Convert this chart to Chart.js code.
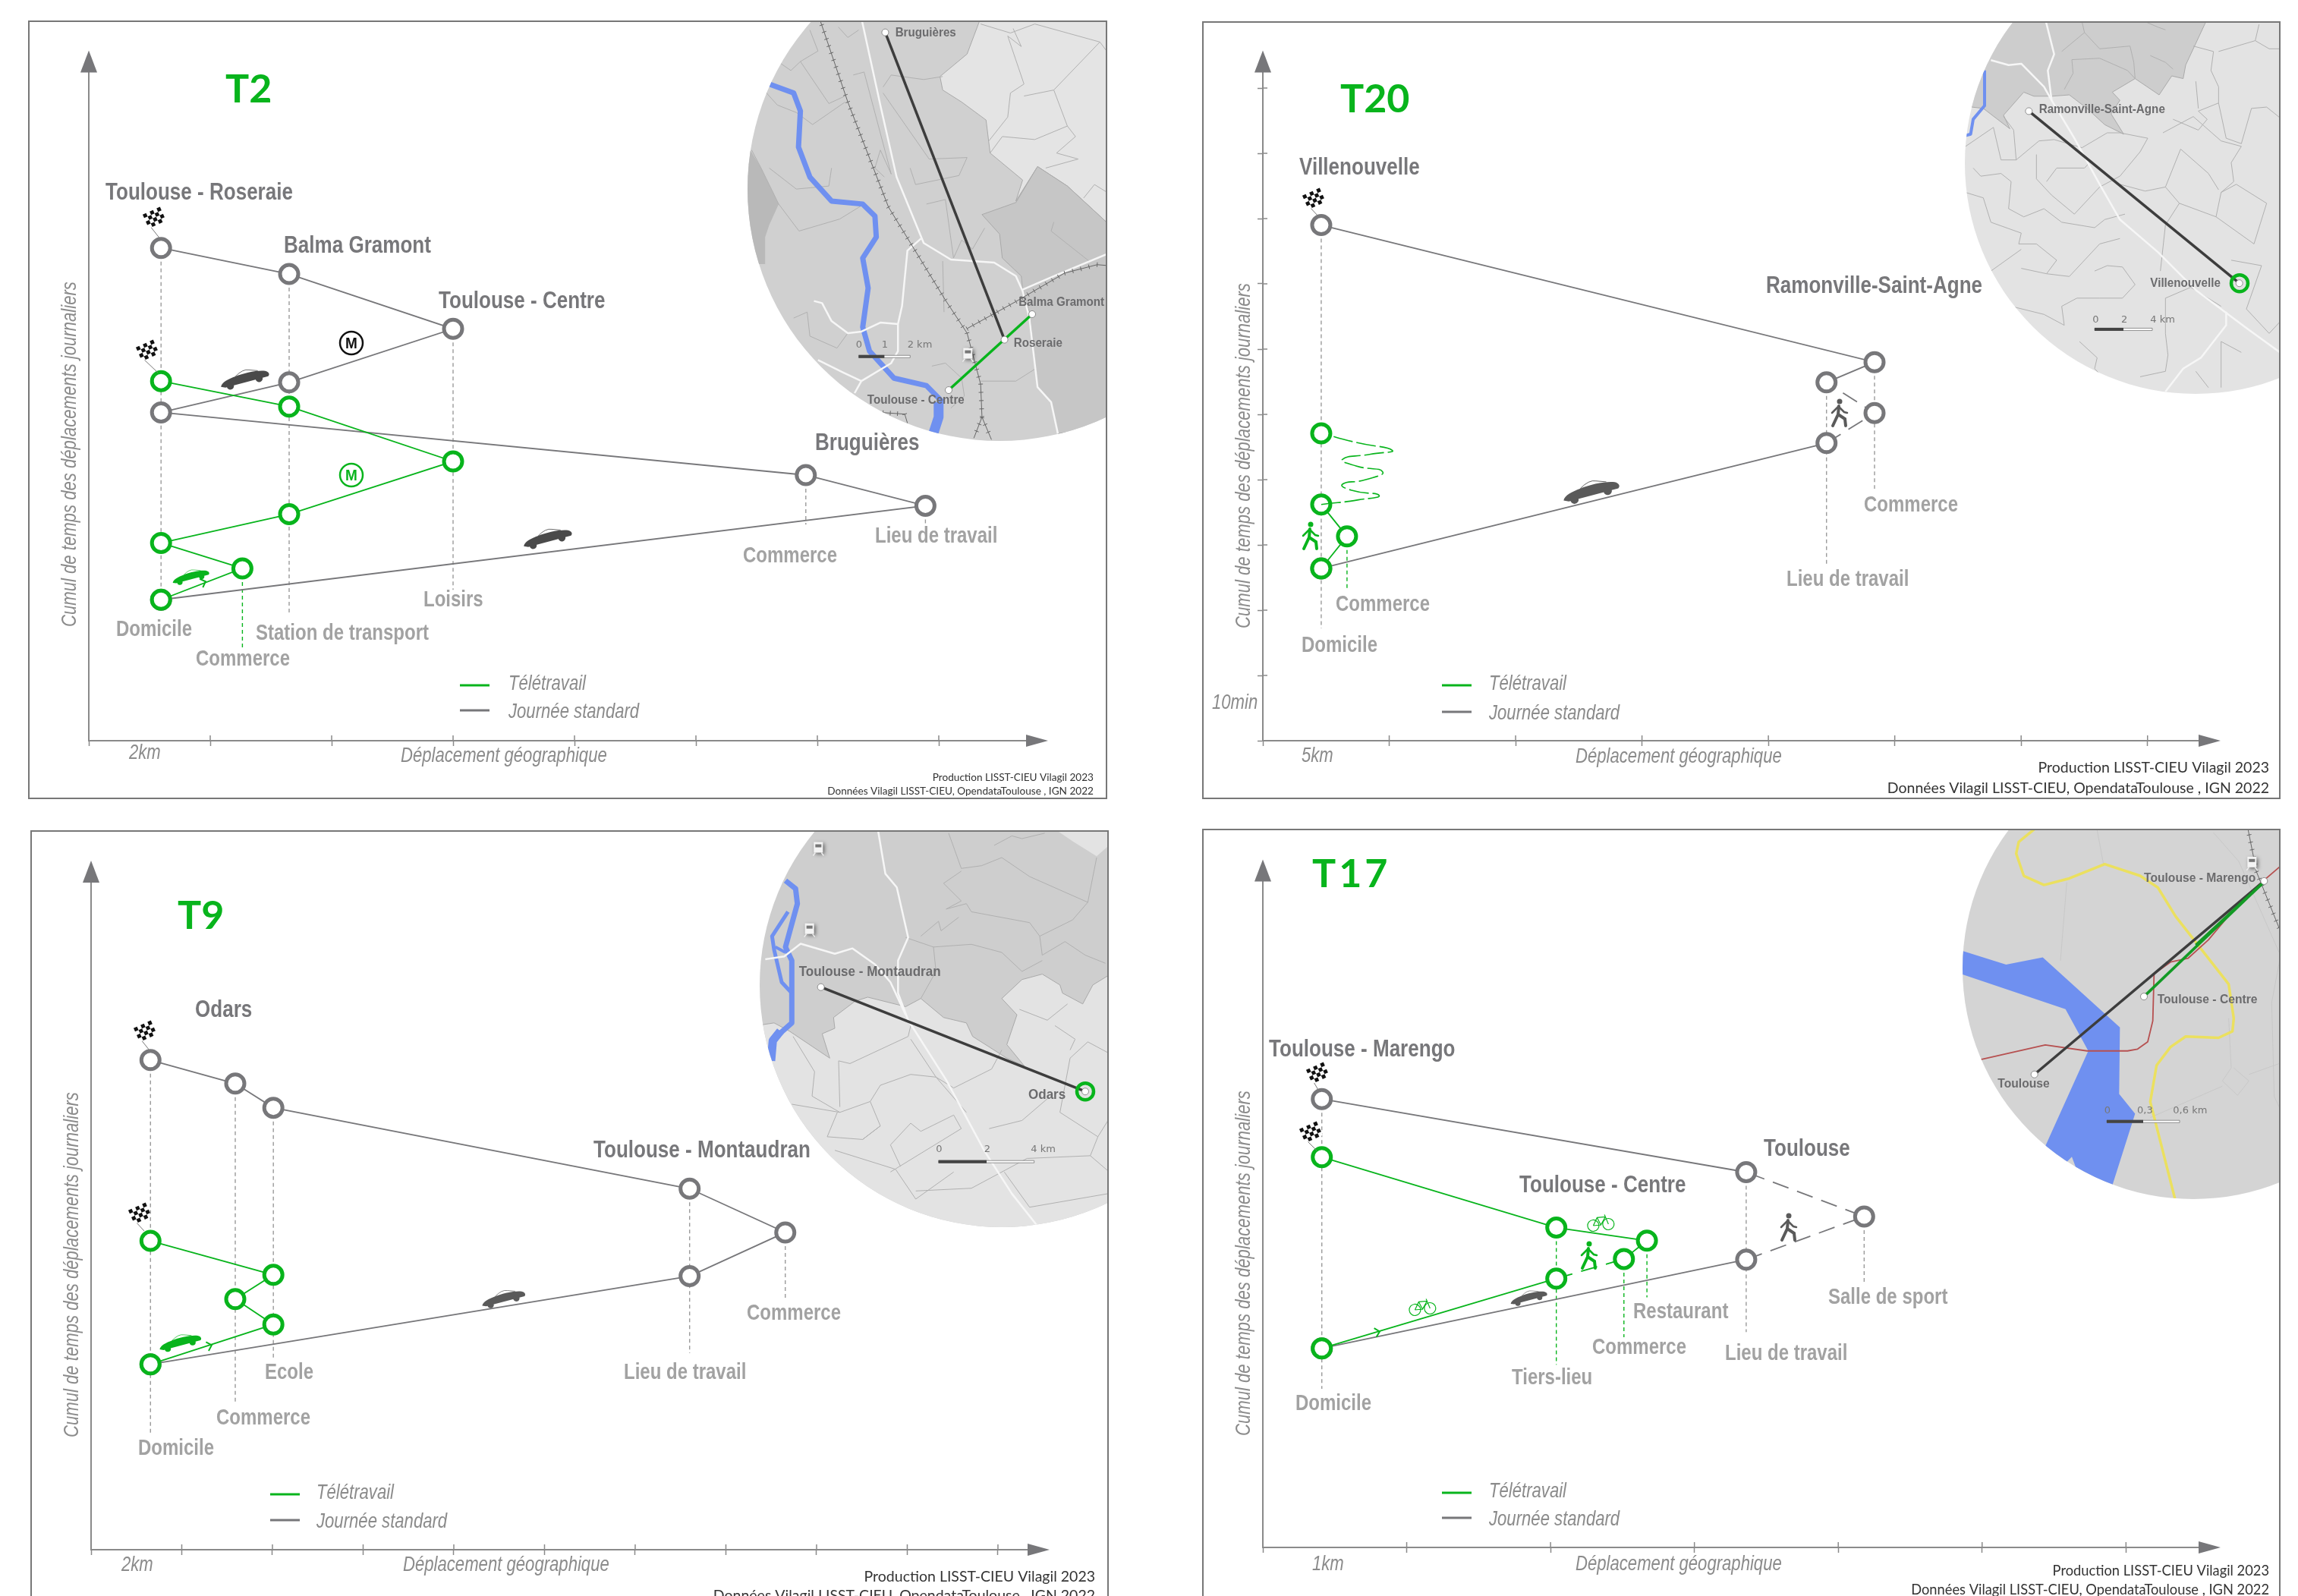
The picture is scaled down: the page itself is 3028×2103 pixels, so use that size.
<!DOCTYPE html>
<html>
<head>
<meta charset="utf-8">
<title>Cumul de temps des déplacements</title>
<style>
  html, body { margin: 0; padding: 0; background: #fff; width: 3028px; height: 2103px; overflow: hidden; }
  canvas { position: absolute; }
</style>
<script src="https://cdn.jsdelivr.net/npm/chart.js@4/dist/chart.umd.js"></script>
</head>
<body>
<script>
// ---- data : x in km, y in minutes ----
const t2GreyX = [1.19, 13.78, 11.81, 1.19, 3.3, 6.0, 3.3, 1.19];
const t2GreyY = [21.6, 36.0, 40.7, 50.3, 54.9, 63.1, 71.5, 75.5];
const t2GreenX = [1.19, 2.53, 1.19, 3.3, 6.0, 3.3, 1.19];
const t2GreenY = [21.6, 26.4, 30.3, 34.7, 42.8, 51.2, 55.1];
const t2DropGreyX = [1.19, 3.3, 6.0, 11.81, 13.78];
const t2DropGreyTop = [75.5, 71.5, 63.1, 40.7, 36.0];
const t2DropGreyBottom = [19.9, 19.2, 23.1, 33.1, 33.1];
const t2DropGreenX = [2.53];
const t2DropGreenTop = [26.4];
const t2DropGreenBottom = [14.1];
const t2Places = ['Toulouse - Roseraie', 'Balma Gramont', 'Toulouse - Centre', 'Bruguières'];
const t2Stops = ['Commerce', 'Lieu de travail', 'Loisirs', 'Domicile', 'Station de transport', 'Commerce'];

const t20GreyX = [2.31, 22.3, 24.2, 22.3, 24.2, 2.31];
const t20GreyY = [26.4, 45.6, 50.2, 54.9, 58.0, 79.0];
const t20GreenX = [2.31, 3.33, 2.31];
const t20GreenY = [26.4, 31.3, 36.2];
const t20SportX = [2.31, 3.78, 4.6, 3.48, 3.15, 4.07, 4.74, 3.69, 3.15, 4.26, 5.12, 3.69, 2.31];
const t20SportY = [36.2, 36.9, 37.6, 38.4, 39.3, 40.0, 41.2, 42.1, 43.1, 43.9, 44.5, 45.7, 47.1];
const t20DropGreyX = [2.31, 22.3, 24.2];
const t20DropGreyTop = [79.0, 54.9, 58.0];
const t20DropGreyBottom = [17.2, 26.7, 38.6];
const t20DropGreenX = [3.33];
const t20DropGreenTop = [31.3];
const t20DropGreenBottom = [23.3];
const t20Places = ['Villenouvelle', 'Ramonville-Saint-Agne'];
const t20Stops = ['Commerce', 'Lieu de travail', 'Commerce', 'Domicile'];

const t9GreyX = [1.31, 13.2, 15.31, 13.2, 4.02, 3.18, 1.31];
const t9GreyY = [28.4, 41.9, 48.6, 55.3, 67.7, 71.4, 75.0];
const t9GreenX = [1.31, 4.02, 3.18, 4.02, 1.31];
const t9GreenY = [28.4, 34.5, 38.4, 42.1, 47.3];
const t9DropGreyX = [1.31, 3.18, 4.02, 13.2, 15.31];
const t9DropGreyTop = [75.0, 71.4, 67.7, 55.3, 48.6];
const t9DropGreyBottom = [17.8, 22.7, 29.0, 30.1, 38.3];
const t9Places = ['Odars', 'Toulouse - Montaudran'];
const t9Stops = ['Commerce', 'Lieu de travail', 'Ecole', 'Commerce', 'Domicile'];

const t17GreyX = [0.41, 3.36, 4.18, 3.36, 0.41];
const t17GreyY = [30.5, 44.1, 50.7, 57.5, 68.7];
const t17GreenX = [0.41, 2.04, 2.51, 2.67, 2.04, 0.41];
const t17GreenY = [30.5, 41.2, 44.2, 47.0, 49.0, 59.8];
const t17DropGreyX = [0.41, 3.36, 4.18];
const t17DropGreyTop = [68.7, 57.5, 50.7];
const t17DropGreyBottom = [24.3, 33.0, 40.6];
const t17DropGreenX = [2.04, 2.51, 2.67];
const t17DropGreenTop = [49.0, 44.2, 47.0];
const t17DropGreenBottom = [28.0, 32.2, 38.3];
const t17Places = ['Toulouse - Marengo', 'Toulouse - Centre', 'Toulouse'];
const t17Stops = ['Salle de sport', 'Restaurant', 'Commerce', 'Lieu de travail', 'Tiers-lieu', 'Domicile'];

const legendNames = ['Télétravail', 'Journée standard'];
const xTitle = 'Déplacement géographique';
const yTitle = 'Cumul de temps des déplacements journaliers';
const footerProd = 'Production LISST-CIEU Vilagil 2023';
const footerData = 'Données Vilagil LISST-CIEU, OpendataToulouse , IGN 2022';

// ---- styles ----
const GREEN = '#08b41c';
const GREY = '#77777a';
const STOP = '#a2a2a2';
const AXIS = '#8a8a8a';
const ITALIC = '#8b8b8b';
const DARK = '#3d3d3d';
const BLUE = '#6f90f0';
const SANS = '"Liberation Sans"';

function text(ctx, str, x, y, font, color, opt) {
  opt = opt || {};
  ctx.save();
  ctx.translate(x, y);
  if (opt.rot) ctx.rotate(opt.rot);
  ctx.scale(opt.stretch || 1, 1);
  ctx.font = font;
  ctx.fillStyle = color;
  ctx.textAlign = opt.align || 'left';
  ctx.textBaseline = 'middle';
  if (opt.spacing) ctx.letterSpacing = opt.spacing;
  ctx.fillText(str, 0, 0);
  ctx.restore();
}

function car(ctx, x, y, color, s) {
  ctx.save();
  ctx.translate(x, y);
  ctx.rotate(-0.16);
  ctx.scale(s, s);
  ctx.fillStyle = color;
  ctx.beginPath();
  ctx.moveTo(-34, 7);
  ctx.bezierCurveTo(-32, 1, -22, -2, -12, -4);
  ctx.bezierCurveTo(0, -7, 20, -8, 30, -5);
  ctx.bezierCurveTo(35, -3, 36, 1, 33, 3);
  ctx.lineTo(-28, 9);
  ctx.closePath();
  ctx.fill();
  ctx.beginPath();
  ctx.arc(-21, 8, 5, 0, Math.PI * 2);
  ctx.arc(20, 4, 5, 0, Math.PI * 2);
  ctx.fill();
  ctx.strokeStyle = color;
  ctx.lineWidth = 0.8;
  ctx.beginPath();
  ctx.moveTo(-12, -4);
  ctx.quadraticCurveTo(0, -13, 8, -10);
  ctx.lineTo(20, -7);
  ctx.stroke();
  ctx.restore();
}

function walker(ctx, x, y, color) {
  ctx.save();
  ctx.translate(x, y);
  ctx.strokeStyle = color;
  ctx.fillStyle = color;
  ctx.lineCap = 'round';
  ctx.lineWidth = 4;
  ctx.beginPath();
  ctx.arc(1, -15, 3.5, 0, Math.PI * 2);
  ctx.fill();
  ctx.beginPath();
  ctx.moveTo(0, -9); ctx.lineTo(-1, 2); ctx.lineTo(-8, 17);
  ctx.moveTo(-1, 2); ctx.lineTo(8, 8); ctx.lineTo(9, 17);
  ctx.stroke();
  ctx.lineWidth = 2.5;
  ctx.beginPath();
  ctx.moveTo(-1, -8); ctx.lineTo(-9, 0);
  ctx.moveTo(0, -8); ctx.lineTo(7, -1); ctx.lineTo(11, 0);
  ctx.stroke();
  ctx.restore();
}

function bike(ctx, x, y, color) {
  ctx.save();
  ctx.translate(x, y);
  ctx.rotate(-0.1);
  ctx.strokeStyle = color;
  ctx.lineWidth = 1.2;
  ctx.beginPath();
  ctx.arc(-10, 4, 7.5, 0, Math.PI * 2);
  ctx.moveTo(17.5, 4);
  ctx.arc(10, 4, 7.5, 0, Math.PI * 2);
  ctx.moveTo(-10, 4); ctx.lineTo(-4, -6); ctx.lineTo(7, -6); ctx.lineTo(10, 4);
  ctx.moveTo(-4, -6); ctx.lineTo(0, 4); ctx.lineTo(7, -6);
  ctx.moveTo(-10, 4); ctx.lineTo(0, 4);
  ctx.moveTo(6, -9); ctx.lineTo(7, -6);
  ctx.stroke();
  ctx.restore();
}

function flag(ctx, x, y, endX, endY) {
  ctx.save();
  ctx.strokeStyle = '#777';
  ctx.lineWidth = 1;
  ctx.beginPath();
  ctx.moveTo(x - 6, y + 10);
  ctx.lineTo(endX, endY);
  ctx.stroke();
  ctx.translate(x, y);
  ctx.rotate(-0.42);
  const c = 5;
  ctx.fillStyle = '#fff';
  ctx.fillRect(-12, -10, c * 5, c * 4);
  ctx.fillStyle = '#111';
  for (let i = 0; i < 5; i++) {
    for (let j = 0; j < 4; j++) {
      if ((i + j) % 2 === 0) ctx.fillRect(-12 + i * c, -10 + j * c, c, c);
    }
  }
  ctx.restore();
}

function metro(ctx, x, y, color) {
  ctx.strokeStyle = color;
  ctx.lineWidth = 2.5;
  ctx.beginPath();
  ctx.arc(x, y, 15, 0, Math.PI * 2);
  ctx.stroke();
  text(ctx, 'M', x, y + 1, 'bold 20px ' + SANS, color, { align: 'center', stretch: 0.95 });
}

function chevron(ctx, x, y, color, rot) {
  ctx.save();
  ctx.translate(x, y);
  ctx.rotate(rot);
  ctx.strokeStyle = color;
  ctx.lineWidth = 2;
  ctx.beginPath();
  ctx.moveTo(-4, -6); ctx.lineTo(2, 0); ctx.lineTo(-4, 6);
  ctx.stroke();
  ctx.restore();
}

function train(ctx, x, y) {
  ctx.save();
  ctx.shadowColor = 'rgba(0,0,0,0.5)';
  ctx.shadowBlur = 5;
  ctx.shadowOffsetX = 2;
  ctx.shadowOffsetY = 2;
  ctx.fillStyle = '#f4f4f4';
  ctx.fillRect(x - 6, y - 8, 12, 14);
  ctx.shadowColor = 'transparent';
  ctx.fillStyle = '#777';
  ctx.fillRect(x - 4, y - 5, 8, 4);
  ctx.strokeStyle = '#eee';
  ctx.lineWidth = 1.5;
  ctx.beginPath();
  ctx.moveTo(x - 4, y + 6); ctx.lineTo(x - 7, y + 10);
  ctx.moveTo(x + 4, y + 6); ctx.lineTo(x + 7, y + 10);
  ctx.stroke();
  ctx.restore();
}

// ---- background maps, traced in zoom units of the reference ----
function drawMap(ctx, m, panel) {
  const px = p => [p[0] / m.sx + m.ox, p[1] / m.sy + m.oy];
  const path = pts => {
    ctx.beginPath();
    pts.forEach((p, i) => {
      const q = px(p);
      if (i === 0) ctx.moveTo(q[0], q[1]); else ctx.lineTo(q[0], q[1]);
    });
  };
  ctx.save();
  ctx.beginPath();
  ctx.rect(panel.x, panel.y, panel.w, panel.h);
  ctx.clip();
  ctx.beginPath();
  ctx.arc(m.cx, m.cy, m.r, 0, Math.PI * 2);
  ctx.clip();
  ctx.fillStyle = m.base;
  ctx.fillRect(m.cx - m.r, m.cy - m.r, m.r * 2, m.r * 2);
  (m.areas || []).forEach(a => {
    path(a.pts);
    ctx.closePath();
    ctx.fillStyle = a.color;
    ctx.fill();
    ctx.strokeStyle = '#a9a9a9';
    ctx.lineWidth = 1;
    if (a.line) ctx.stroke();
  });
  ctx.lineJoin = 'round';
  ctx.strokeStyle = m.borderColor || '#b0b0b0';
  ctx.lineWidth = 1;
  (m.borders || []).forEach(b => { path(b); ctx.stroke(); });
  (m.rivers || []).forEach(r => {
    path(r.pts);
    ctx.strokeStyle = BLUE;
    ctx.lineWidth = r.w;
    ctx.stroke();
  });
  (m.roads || []).forEach(r => {
    path(r);
    ctx.strokeStyle = '#f6f6f6';
    ctx.lineWidth = 2.5;
    ctx.stroke();
  });
  (m.colored || []).forEach(r => {
    path(r.pts);
    ctx.strokeStyle = r.color;
    ctx.lineWidth = r.w;
    ctx.stroke();
  });
  (m.rails || []).forEach(r => {
    path(r);
    ctx.strokeStyle = '#666';
    ctx.lineWidth = 1;
    ctx.stroke();
    for (let i = 0; i < r.length - 1; i++) {
      const a = px(r[i]), b = px(r[i + 1]);
      const len = Math.hypot(b[0] - a[0], b[1] - a[1]);
      const n = Math.floor(len / 9);
      for (let k = 0; k < n; k++) {
        const t = k / n;
        const qx = a[0] + (b[0] - a[0]) * t, qy = a[1] + (b[1] - a[1]) * t;
        const ux = (b[1] - a[1]) / len * 3, uy = -(b[0] - a[0]) / len * 3;
        ctx.beginPath();
        ctx.moveTo(qx - ux, qy - uy);
        ctx.lineTo(qx + ux, qy + uy);
        ctx.stroke();
      }
    }
  });
  (m.trains || []).forEach(t => { const q = px(t); train(ctx, q[0], q[1]); });
  (m.routes || []).forEach(r => {
    path(r.pts);
    ctx.strokeStyle = r.color;
    ctx.lineWidth = 3.5;
    ctx.stroke();
  });
  (m.rings || []).forEach(t => {
    const q = px(t);
    ctx.beginPath();
    ctx.arc(q[0], q[1], 11, 0, Math.PI * 2);
    ctx.strokeStyle = GREEN;
    ctx.lineWidth = 4.5;
    ctx.stroke();
  });
  (m.nodes || []).forEach(n => {
    const q = px(n);
    ctx.beginPath();
    ctx.arc(q[0], q[1], 4.5, 0, Math.PI * 2);
    ctx.fillStyle = '#fff';
    ctx.fill();
    ctx.strokeStyle = '#777';
    ctx.lineWidth = 0.8;
    ctx.stroke();
  });
  (m.names || []).forEach(n => {
    const q = px(n);
    text(ctx, n[2], q[0], q[1], 'bold ' + (m.nameSize || 16.5) + 'px ' + SANS, '#6b6b6d', { stretch: 0.92 });
  });
  // scale bar
  const s = m.scale;
  const a = px([s.x0, s.y]), b = px([s.x1, s.y]), c = px([s.x2, s.y]);
  ctx.fillStyle = '#fff';
  ctx.fillRect(a[0], a[1] - 1.5, c[0] - a[0], 3);
  ctx.strokeStyle = '#777';
  ctx.lineWidth = 0.8;
  ctx.strokeRect(a[0], a[1] - 1.5, c[0] - a[0], 3);
  ctx.fillStyle = '#444';
  ctx.fillRect(a[0], a[1] - 2, b[0] - a[0], 4);
  s.labels.forEach(l => {
    const q = px([l[0], s.ty]);
    text(ctx, l[1], q[0], q[1], '13px "DejaVu Sans"', '#777');
  });
  ctx.restore();
}

const mapT2 = {
  cx: 1317, cy: 249, r: 332, sx: 2.8, sy: 2.529, ox: 960, oy: 0, base: '#d0d0d0',
  areas: [
    { color: '#e4e4e4', line: true, pts: [[930,60],[905,120],[880,180],[780,255],[790,300],[860,340],[950,400],[965,510],[1085,600],[1060,670],[1140,555],[1250,620],[1400,745],[1400,60]] },
    { color: '#b9b9b9', pts: [[80,500],[120,560],[185,680],[150,750],[135,790],[135,880],[50,880],[50,500]] },
    { color: '#c6c6c6', line: true, pts: [[935,715],[1060,675],[1140,555],[1250,620],[1400,745],[1400,1420],[1215,1445],[1190,1340],[1140,1290],[1110,1040],[1085,965],[1080,920],[1010,860],[1000,780]] }
  ],
  borders: [
    [[190,210],[230,235],[265,205],[330,170],[300,100]],
    [[265,205],[370,345],[430,320]],
    [[130,300],[180,350],[250,375],[310,415],[430,340]],
    [[460,250],[500,240],[600,580],[560,500],[540,560],[575,590]],
    [[570,290],[600,250],[720,265],[790,255]],
    [[570,310],[740,530],[880,525],[850,585],[690,615],[670,560]],
    [[405,90],[440,125],[480,100]],
    [[85,500],[120,560],[185,680],[260,770],[410,730],[500,680]],
    [[380,560],[370,620],[250,630],[150,560]],
    [[730,680],[800,665],[830,860],[860,800],[900,830],[945,760]],
    [[240,1060],[290,1040],[300,1120],[400,1160],[440,1110]],
    [[790,870],[795,1040]],
    [[750,1220],[800,1210],[860,1260],[870,1320],[820,1360]],
    [[930,1270],[1060,1270],[1130,1230]],
    [[1200,740],[1190,770],[1330,870]],
    [[1030,120],[1080,155],[1050,95]],
    [[1030,120],[1090,280],[1040,310],[1030,390],[960,470]],
    [[1090,320],[1200,300],[1250,420],[1130,465],[1010,455],[965,510]],
    [[1200,300],[1370,140],[1395,170]],
    [[1250,420],[1280,455],[1210,510],[1290,530],[1170,560]],
    [[1310,660],[1350,615],[1395,640]],
    [[930,80],[1040,110],[1130,80],[1370,140]]
  ],
  rivers: [
    { w: 7, pts: [[150,280],[240,310],[265,370],[258,490],[300,590],[380,670],[495,680],[540,720],[545,790],[495,860],[515,960],[495,1090],[520,1170],[610,1260],[730,1285],[790,1340]] },
    { w: 13, pts: [[775,1340],[775,1390],[750,1460]] }
  ],
  roads: [
    [[490,60],[560,350],[620,590],[720,810],[820,865],[980,875],[1060,920],[1085,970],[1110,1060],[1140,1290],[1190,1340],[1215,1445]],
    [[1085,965],[1200,920],[1400,845]],
    [[710,795],[660,835],[640,1020],[625,1080],[625,1170],[600,1210],[490,1270],[465,1310]],
    [[315,1003],[345,1010],[380,1070],[440,1110],[490,1105],[560,1075],[625,1080]],
    [[330,1200],[420,1240],[490,1270]]
  ],
  rails: [
    [[335,60],[440,340],[590,690],[800,1000],[880,1110],[930,1280],[935,1390],[905,1460]],
    [[935,1390],[970,1465]],
    [[880,1095],[1060,1005],[1240,910],[1360,882],[1400,885]],
    [[570,1375],[650,1380],[660,1410]]
  ],
  trains: [[883,1180]],
  routes: [
    { color: DARK, pts: [[578,108],[1018,1132]] },
    { color: GREEN, pts: [[812,1300],[1120,1047]] }
  ],
  nodes: [[578,108],[1018,1132],[812,1300],[1120,1047]],
  names: [[615,110,'Bruguières'],[1070,1008,'Balma Gramont'],[1052,1145,'Roseraie'],[512,1335,'Toulouse - Centre']],
  scale: { x0: 480, x1: 575, x2: 670, y: 1188, ty: 1150, labels: [[470,'0'],[565,'1'],[660,'2 km']] }
};

const mapT20 = {
  cx: 2893, cy: 215, r: 304, sx: 3, sy: 2.8, ox: 2560, oy: 0, base: '#e3e3e3',
  areas: [
    { color: '#cdcdcd', line: true, pts: [[60,70],[1045,70],[960,240],[950,290],[905,280],[855,350],[760,290],[670,340],[700,370],[665,420],[715,495],[640,460],[570,400],[500,350],[430,355],[360,355],[320,340],[240,425],[265,475],[160,400],[115,395],[60,420]] }
  ],
  borders: [
    [[560,120],[620,180],[740,170],[755,230],[760,290]],
    [[470,190],[560,120],[550,80]],
    [[510,220],[620,215],[730,260],[760,290]],
    [[510,220],[515,270],[480,330]],
    [[800,80],[850,100],[880,110]],
    [[820,205],[880,230],[910,255]],
    [[990,170],[1070,190],[1060,260],[1090,320],[1090,380],[1010,410],[1045,440],[1010,480],[910,440]],
    [[1000,300],[1010,400]],
    [[1235,150],[1290,180],[1340,180]],
    [[1235,150],[1250,90]],
    [[1090,190],[1235,150]],
    [[1090,380],[1120,510],[1180,530],[1220,400],[1280,395],[1340,440]],
    [[240,430],[280,480],[290,590],[380,520],[440,515],[550,545],[650,490],[700,490],[810,510]],
    [[870,490],[990,430],[1100,520],[1180,540],[1140,600],[1150,670],[1100,710]],
    [[90,540],[200,470],[230,590],[290,590]],
    [[120,620],[150,650],[230,640],[270,670]],
    [[370,570],[370,660],[430,720],[520,790],[620,690],[700,650],[780,560],[810,510]],
    [[410,670],[450,620],[560,620],[580,600]],
    [[880,690],[940,550],[1050,640],[1090,700]],
    [[880,690],[800,705],[700,680]],
    [[880,690],[935,750],[880,830]],
    [[935,750],[1080,800],[1100,710]],
    [[1100,710],[1160,680],[1280,750],[1230,900],[1080,800]],
    [[270,670],[260,770],[320,800],[400,770],[470,820],[600,840],[640,810],[720,790]],
    [[90,710],[160,730],[190,820],[310,860]],
    [[310,860],[300,900],[370,900],[450,960],[410,1010],[310,990]],
    [[410,1010],[500,1020],[620,900],[700,880]],
    [[600,1000],[650,980],[710,985],[760,1050],[710,1100],[620,1100],[530,1100],[470,1130],[480,1200],[400,1160],[270,1130]],
    [[860,1000],[880,830]],
    [[880,1100],[980,1060],[1100,1130]],
    [[880,1100],[880,1230],[890,1310]],
    [[1140,960],[1260,980],[1200,1140],[1290,1230],[1340,1180]],
    [[540,1260],[610,1320],[600,1360],[625,1385]],
    [[780,1390],[880,1370],[890,1310]],
    [[1100,1260],[1100,1430]],
    [[1100,1260],[1180,1300]],
    [[1000,1370],[1050,1430]],
    [[190,1000],[310,920]]
  ],
  rivers: [{ w: 4, pts: [[165,260],[165,390],[120,440],[110,495],[90,500]] }],
  roads: [
    [[405,70],[440,200],[415,260],[430,370],[520,510],[620,680],[700,810],[850,930],[1000,1070],[1200,1210],[1340,1305]],
    [[190,222],[260,240],[310,235],[400,320],[430,370]],
    [[1120,1150],[1120,1200],[1020,1320],[950,1360],[880,1445]]
  ],
  routes: [{ color: DARK, pts: [[340,410],[1172,1045]] }],
  rings: [[1173,1045]],
  nodes: [[340,410],[1172,1045]],
  names: [[380,405,'Ramonville-Saint-Agne'],[820,1045,'Villenouvelle']],
  scale: { x0: 600, x1: 714, x2: 828, y: 1215, ty: 1180, labels: [[592,'0'],[705,'2'],[820,'4 km']] }
};

const mapT9 = {
  cx: 1320, cy: 1298, r: 319, sx: 3, sy: 2.8, ox: 980, oy: 1080, base: '#cecece', nameSize: 18.5,
  areas: [
    { color: '#e3e3e3', line: true, pts: [[50,760],[120,750],[180,780],[340,880],[310,790],[360,770],[355,730],[440,670],[490,655],[640,690],[700,660],[790,730],[880,750],[905,800],[1040,880],[1110,910],[1040,830],[1080,720],[1020,660],[1100,590],[1180,570],[1250,610],[1260,640],[1340,680],[1380,610],[1450,570],[1450,1520],[50,1520]] },
    { color: '#e3e3e3', pts: [[1230,35],[1450,35],[1450,90],[1395,135],[1300,80]] }
  ],
  borders: [
    [[810,50],[860,180],[940,170],[1020,140],[1130,210],[1360,305],[1395,140]],
    [[990,95],[1060,60],[1100,70],[1190,50]],
    [[790,235],[860,190]],
    [[790,235],[860,300],[800,330],[880,310],[900,340],[1130,380],[1170,430],[1300,370],[1360,305]],
    [[1170,430],[1180,500],[1270,450],[1350,500],[1430,530]],
    [[700,430],[770,375],[780,410],[850,360]],
    [[750,470],[900,460],[1020,490],[1100,560],[1180,520]],
    [[750,470],[760,560],[700,660]],
    [[640,435],[750,470]],
    [[195,800],[280,930],[270,1020],[380,1080],[500,1040],[540,1130],[470,1180]],
    [[375,890],[380,1060]],
    [[375,890],[420,900],[650,800],[660,760]],
    [[500,1040],[540,980],[660,940],[760,950],[880,1080]],
    [[660,810],[760,950],[830,990],[980,920],[1020,850]],
    [[330,1170],[370,1080]],
    [[330,1170],[470,1180],[540,1130]],
    [[580,1200],[660,1120],[700,1150],[830,1090],[860,1140],[580,1300]],
    [[580,1200],[620,1280]],
    [[970,1140],[1100,1110],[1200,1030]],
    [[1250,1080],[1400,1170],[1440,1110]],
    [[1020,1300],[1120,1250],[1370,1240],[1445,1300]],
    [[1370,1240],[1400,1170]],
    [[1250,1080],[1290,880],[1360,820],[1440,860]],
    [[1230,760],[1310,810],[1290,850]],
    [[1090,700],[1200,740],[1280,680]],
    [[360,1220],[600,1290],[680,1400],[830,1300]],
    [[680,1370],[900,1360],[1020,1300]],
    [[1030,1300],[1130,1430],[1440,1380]],
    [[190,1050],[380,1080]]
  ],
  rivers: [
    { w: 7, pts: [[165,225],[205,255],[212,310],[165,470],[190,520],[190,750],[130,800]] },
    { w: 5, pts: [[175,340],[112,430],[120,480],[150,600],[190,640]] },
    { w: 4, pts: [[125,470],[165,490]] },
    { w: 11, pts: [[145,780],[115,815],[108,890]] }
  ],
  roads: [
    [[530,35],[560,200],[605,250],[650,435],[610,520],[610,640],[650,740],[800,960],[950,1220],[1060,1380],[1170,1510]],
    [[85,515],[160,505],[225,458],[360,495],[430,475],[520,535],[580,600],[640,720]]
  ],
  trains: [[295,105],[260,405]],
  routes: [{ color: DARK, pts: [[305,618],[1350,1003]] }],
  rings: [[1350,1003]],
  nodes: [[305,618],[1350,1003]],
  names: [[218,563,'Toulouse - Montaudran'],[1125,1015,'Odars']],
  scale: { x0: 770, x1: 960, x2: 1148, y: 1262, ty: 1218, labels: [[760,'0'],[950,'2'],[1135,'4 km']] }
};

const mapT17 = {
  cx: 2890, cy: 1276, r: 304, sx: 3, sy: 2.904, ox: 2560, oy: 1080, base: '#d4d4d4', borderColor: '#c8c8c8', nameSize: 17,
  areas: [
    { color: BLUE, pts: [[70,500],[250,555],[395,527],[700,795],[697,1050],[760,1125],[665,1415],[535,1355],[510,1290],[480,1320],[400,1260],[575,885],[485,725],[70,590]] }
  ],
  borders: [
    [[610,40],[635,170]],
    [[490,240],[465,540]],
    [[1130,760],[1140,950],[1105,1000],[1165,1055],[1210,1000],[1150,950]],
    [[1210,975],[1340,930]],
    [[1105,1020],[820,1140]],
    [[1070,50],[1170,160],[1335,520],[1300,700],[1310,1060],[1335,1110]]
  ],
  colored: [
    { color: '#ebe05f', w: 3.5, pts: [[370,30],[300,85],[290,130],[320,215],[400,250],[500,225],[640,170],[780,215],[850,260],[920,370],[1130,630],[1150,760],[1145,810],[1090,835],[960,830],[900,870],[845,940],[820,1080],[920,1460]] },
    { color: '#b65050', w: 1.8, pts: [[150,918],[405,862],[570,885],[730,885],[770,878],[810,850],[830,770],[835,590],[900,545],[970,530],[1050,460],[1180,310],[1260,240],[1330,182],[1345,182]] }
  ],
  rails: [[[1205,30],[1240,200],[1340,440]]],
  trains: [[1222,165]],
  routes: [
    { color: DARK, pts: [[362,975],[1258,245]] },
    { color: '#139a25', pts: [[795,677],[1262,245]] },
    { color: '#139a25', pts: [[1000,480],[1262,245]] }
  ],
  nodes: [[1270,235],[795,677],[362,975]],
  names: [[795,225,'Toulouse - Marengo'],[848,690,'Toulouse - Centre'],[217,1012,'Toulouse']],
  scale: { x0: 648, x1: 792, x2: 936, y: 1155, ty: 1113, labels: [[638,'0'],[768,'0,3'],[910,'0,6 km']] }
};

// ---- one chart per panel ----
function points(xs, ys) {
  return xs.map((x, i) => ({ x: x, y: ys[i] }));
}

function routeSet(xs, ys, color, dashed) {
  return {
    data: points(xs, ys),
    showLine: true,
    borderColor: color,
    borderWidth: 1.8,
    pointRadius: 12,
    pointBorderWidth: 5,
    pointBorderColor: color,
    pointBackgroundColor: '#fff',
    clip: false,
    segment: { borderDash: c => (dashed || []).includes(c.p0DataIndex) ? [22, 12] : undefined }
  };
}

function dropSets(xs, tops, bottoms, color) {
  return xs.map((x, i) => ({
    data: [{ x: x, y: tops[i] }, { x: x, y: bottoms[i] }],
    showLine: true,
    borderColor: color,
    borderWidth: 1.4,
    borderDash: [5, 4],
    pointRadius: 0
  }));
}

function addPanel(p) {
  const canvas = document.createElement('canvas');
  canvas.width = p.w;
  canvas.height = p.h;
  canvas.style.left = p.x + 'px';
  canvas.style.top = p.y + 'px';
  canvas.style.width = p.w + 'px';
  canvas.style.height = p.h + 'px';
  document.body.appendChild(canvas);

  const paper = {
    id: 'paper',
    beforeDraw(chart) {
      const ctx = chart.ctx;
      ctx.save();
      ctx.fillStyle = '#fff';
      ctx.fillRect(0, 0, p.w, p.h);
      ctx.translate(-p.x, -p.y);
      drawMap(ctx, p.map, p);
      ctx.strokeStyle = '#777';
      ctx.lineWidth = 2;
      ctx.strokeRect(p.x + 1, p.y + 1, p.w - 2, p.bottomOpen ? p.h + 20 : p.h - 2);
      ctx.restore();
    },
    afterDraw(chart) {
      const ctx = chart.ctx;
      const a = chart.chartArea;
      ctx.save();
      // axis ticks cross the axis in the original, library only draws the outer half
      ctx.strokeStyle = AXIS;
      ctx.lineWidth = 1.5;
      chart.scales.x.ticks.forEach(t => {
        const tx = chart.scales.x.getPixelForValue(t.value);
        if (t.value === 0) return;
        ctx.beginPath();
        ctx.moveTo(tx, a.bottom);
        ctx.lineTo(tx, a.bottom - 7);
        ctx.stroke();
      });
      if (p.yTicks) {
        chart.scales.y.ticks.forEach(t => {
          const ty = chart.scales.y.getPixelForValue(t.value);
          if (t.value === 0) return;
          ctx.beginPath();
          ctx.moveTo(a.left, ty);
          ctx.lineTo(a.left + 6, ty);
          ctx.stroke();
        });
      }
      // arrow heads at the end of both axes
      ctx.fillStyle = GREY;
      ctx.beginPath();
      ctx.moveTo(a.left, a.top - 28); ctx.lineTo(a.left - 11, a.top + 1); ctx.lineTo(a.left + 11, a.top + 1);
      ctx.closePath();
      ctx.fill();
      ctx.beginPath();
      ctx.moveTo(a.right + 28, a.bottom); ctx.lineTo(a.right - 1, a.bottom - 8); ctx.lineTo(a.right - 1, a.bottom + 8);
      ctx.closePath();
      ctx.fill();
      ctx.translate(-p.x, -p.y);

      const italic = 'italic 28px ' + SANS;
      const narrow = 0.79;
      text(ctx, p.xUnit[0], p.xUnit[1], p.xUnit[2], italic, ITALIC, { stretch: narrow });
      if (p.yUnit) text(ctx, p.yUnit[0], p.yUnit[1], p.yUnit[2], italic, ITALIC, { stretch: narrow });
      text(ctx, xTitle, p.xTitlePos[0], p.xTitlePos[1], italic, ITALIC, { stretch: narrow });
      text(ctx, yTitle, p.yTitlePos[0], p.yTitlePos[1], italic, ITALIC, { rot: -Math.PI / 2, stretch: narrow });

      const t = p.title;
      text(ctx, t[0], t[1], t[2], 'bold 52px Lato', GREEN, { spacing: t[3] || '0px' });

      p.placePos.forEach((q, i) => text(ctx, p.places[i], q[0], q[1], 'bold 31px ' + SANS, GREY, { stretch: 0.84 }));
      p.stopPos.forEach((q, i) => text(ctx, p.stops[i], q[0], q[1], 'bold 30px ' + SANS, STOP, { stretch: 0.8 }));

      const l = p.legend;
      [GREEN, GREY].forEach((c, i) => {
        ctx.strokeStyle = c;
        ctx.lineWidth = 3;
        ctx.beginPath();
        ctx.moveTo(l.x0, l.ys[i]);
        ctx.lineTo(l.x0 + 39, l.ys[i]);
        ctx.stroke();
        text(ctx, legendNames[i], l.tx, l.ys[i] - 2 + i * 4, italic, ITALIC, { stretch: narrow });
      });

      const f = p.footer;
      const ff = f.size + 'px Lato';
      text(ctx, footerProd, f.right, f.y1, ff, '#333', { align: 'right' });
      text(ctx, footerData, f.right, f.y2, ff, '#333', { align: 'right' });

      p.flags.forEach(q => flag(ctx, q[0], q[1], q[2], q[3]));
      (p.cars || []).forEach(q => car(ctx, q[0], q[1], q[2], q[3] || 1));
      (p.walkers || []).forEach(q => walker(ctx, q[0], q[1], q[2]));
      (p.bikes || []).forEach(q => bike(ctx, q[0], q[1], q[2]));
      (p.metros || []).forEach(q => metro(ctx, q[0], q[1], q[2]));
      (p.chevrons || []).forEach(q => chevron(ctx, q[0], q[1], GREEN, q[2]));
      ctx.restore();
    }
  };

  return new Chart(canvas, {
    type: 'scatter',
    // chart.js paints the first dataset last, so flip to get rings above the drop lines
    data: { datasets: p.datasets.slice().reverse() },
    plugins: [paper],
    options: {
      responsive: false,
      animation: false,
      devicePixelRatio: 1,
      events: [],
      layout: {
        padding: {
          left: p.ox - p.x,
          top: p.top - p.y,
          right: p.x + p.w - p.right,
          bottom: p.y + p.h - p.oy
        }
      },
      plugins: { legend: { display: false }, tooltip: { enabled: false } },
      scales: {
        x: {
          type: 'linear',
          min: 0,
          max: p.xMax,
          afterFit: s => { s.height = 0; },
          border: { color: AXIS, width: 2 },
          grid: { drawOnChartArea: false, drawTicks: true, tickLength: 7, tickColor: AXIS, tickWidth: 1.5 },
          ticks: { display: false, stepSize: p.xStep, includeBounds: false }
        },
        y: {
          type: 'linear',
          min: 0,
          max: p.yMax,
          afterFit: s => { s.width = 0; },
          border: { color: AXIS, width: 2 },
          grid: { drawOnChartArea: false, drawTicks: !!p.yTicks, tickLength: 7, tickColor: AXIS, tickWidth: 1.5 },
          ticks: { display: false, stepSize: 10, includeBounds: false }
        }
      }
    }
  });
}

addPanel({
  x: 37, y: 27, w: 1422, h: 1026, ox: 117, oy: 976, top: 94.5, right: 1353,
  xMax: 15.45, yMax: 102.5, xStep: 2, map: mapT2,
  datasets: [
    ...dropSets(t2DropGreyX, t2DropGreyTop, t2DropGreyBottom, '#9a9a9a'),
    ...dropSets(t2DropGreenX, t2DropGreenTop, t2DropGreenBottom, GREEN),
    routeSet(t2GreyX, t2GreyY, GREY),
    routeSet(t2GreenX, t2GreenY, GREEN)
  ],
  title: ['T2', 297, 118],
  places: t2Places, placePos: [[139,254],[374,324],[578,397],[1074,584]],
  stops: t2Stops, stopPos: [[979,733],[1153,707],[558,791],[153,830],[337,835],[258,869]],
  xUnit: ['2km', 170, 992], xTitlePos: [528, 996], yTitlePos: [92, 826],
  legend: { x0: 606, tx: 670, ys: [903, 936] },
  footer: { right: 1441, y1: 1025, y2: 1043, size: 13.6 },
  flags: [[203,287,212,316],[194,462,208,491]],
  cars: [[322,498,'#4a4a4a',0.95],[721,708,'#4a4a4a',0.95],[251,759,GREEN,0.72]],
  metros: [[463,452,'#111'],[463,626,GREEN]],
  chevrons: [[269,767,-0.35]]
});

addPanel({
  x: 1584, y: 28, w: 1421, h: 1025, ox: 1664, oy: 976, top: 94.5, right: 2898,
  xMax: 37.05, yMax: 102.5, xStep: 5, yTicks: true, map: mapT20,
  datasets: [
    ...dropSets(t20DropGreyX, t20DropGreyTop, t20DropGreyBottom, '#9a9a9a'),
    ...dropSets(t20DropGreenX, t20DropGreenTop, t20DropGreenBottom, GREEN),
    routeSet(t20GreyX, t20GreyY, GREY, [1, 2]),
    routeSet(t20GreenX, t20GreenY, GREEN),
    { data: points(t20SportX, t20SportY), showLine: true, borderColor: GREEN, borderWidth: 1.6, borderDash: [26, 5], tension: 0.6, pointRadius: 0, clip: false },
    { data: points([t20SportX[12]], [t20SportY[12]]), pointRadius: 12, pointBorderWidth: 5, pointBorderColor: GREEN, pointBackgroundColor: '#fff' }
  ],
  title: ['T20', 1766, 131],
  places: t20Places, placePos: [[1712,221],[2327,377]],
  stops: t20Stops, stopPos: [[2456,666],[2354,764],[1760,797],[1715,851]],
  xUnit: ['5km', 1715, 996], yUnit: ['10min', 1597, 926], xTitlePos: [2076, 997], yTitlePos: [1639, 828],
  legend: { x0: 1900, tx: 1962, ys: [903, 938] },
  footer: { right: 2990, y1: 1012, y2: 1039, size: 19.5 },
  flags: [[1731,262,1738,286]],
  cars: [[2096,646,'#5a5a5a',1.1]],
  walkers: [[2423,544,'#5a5a5a'],[1726,706,GREEN]]
});

addPanel({
  x: 40, y: 1094, w: 1421, h: 1009, bottomOpen: true, ox: 120, oy: 2042, top: 1162, right: 1355,
  xMax: 20.67, yMax: 102.3, xStep: 2, map: mapT9,
  datasets: [
    ...dropSets(t9DropGreyX, t9DropGreyTop, t9DropGreyBottom, '#9a9a9a'),
    routeSet(t9GreyX, t9GreyY, GREY),
    routeSet(t9GreenX, t9GreenY, GREEN)
  ],
  title: ['T9', 234, 1207],
  places: t9Places, placePos: [[257,1331],[782,1516]],
  stops: t9Stops, stopPos: [[984,1731],[822,1809],[349,1809],[285,1869],[182,1909]],
  xUnit: ['2km', 160, 2062], xTitlePos: [531, 2062], yTitlePos: [95, 1894],
  legend: { x0: 356, tx: 417, ys: [1969, 2003] },
  footer: { right: 1443, y1: 2078, y2: 2103, size: 19.5 },
  flags: [[191,1359,197,1384],[184,1599,190,1622]],
  cars: [[663,1710,'#5a5a5a',0.85],[237,1768,GREEN,0.82]],
  chevrons: [[277,1773,-0.3]]
});

addPanel({
  x: 1584, y: 1092, w: 1421, h: 1011, bottomOpen: true, ox: 1664, oy: 2039, top: 1160.5, right: 2898,
  xMax: 6.51, yMax: 102.15, xStep: 1, map: mapT17,
  datasets: [
    ...dropSets(t17DropGreyX, t17DropGreyTop, t17DropGreyBottom, '#9a9a9a'),
    ...dropSets(t17DropGreenX, t17DropGreenTop, t17DropGreenBottom, GREEN),
    routeSet(t17GreyX, t17GreyY, GREY, [1, 2]),
    routeSet(t17GreenX, t17GreenY, GREEN, [1])
  ],
  title: ['T17', 1729, 1152, '4px'],
  places: t17Places, placePos: [[1672,1383],[2002,1562],[2324,1514]],
  stops: t17Stops, stopPos: [[2409,1710],[2152,1729],[2098,1776],[2273,1784],[1992,1816],[1707,1850]],
  xUnit: ['1km', 1729, 2061], xTitlePos: [2076, 2061], yTitlePos: [1639, 1892],
  legend: { x0: 1900, tx: 1962, ys: [1967, 2000] },
  footer: { right: 2990, y1: 2070, y2: 2095, size: 18.3 },
  flags: [[1736,1414,1738,1438],[1727,1492,1735,1516]],
  cars: [[2014,1709,'#5a5a5a',0.72]],
  walkers: [[2093,1654,GREEN],[2356,1617,'#5a5a5a']],
  bikes: [[2109,1610,GREEN],[1874,1721,GREEN]],
  chevrons: [[1816,1755,-0.25]]
});
</script>
</body>
</html>
